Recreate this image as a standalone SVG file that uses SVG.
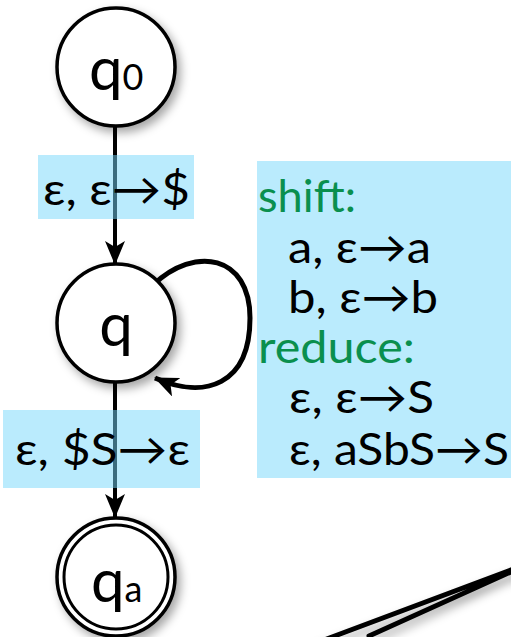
<svg xmlns="http://www.w3.org/2000/svg" width="511" height="637" viewBox="0 0 511 637">
<defs>
<filter id="sh" x="-30%" y="-30%" width="160%" height="160%">
<feDropShadow dx="4" dy="5" stdDeviation="5" flood-color="#000" flood-opacity="0.35"/>
</filter>
<marker id="ah" markerWidth="24" markerHeight="20" viewBox="0 0 24 20" refX="23" refY="10" orient="auto" markerUnits="userSpaceOnUse">
<path d="M0,0 L6,10 L0,20 L24,10 Z" fill="#000"/>
</marker>
</defs>
<style>
.st{fill:#fff;stroke:#000;stroke-width:3.5}
.ed{fill:none;stroke:#000;stroke-width:4}
.lb{fill:rgb(118,216,251);fill-opacity:0.5}
.t{font-family:Lato,"DejaVu Sans",sans-serif;fill:#000}
.g{fill:#0a8f4e}
</style>
<g id="connectors">
<line class="ed" x1="115" y1="126" x2="115" y2="264" marker-end="url(#ah)"/>
<path class="ed" style="stroke-width:5" d="M153,285 C195,245 250,255 250,318 C250,385 205,400 155,378" marker-end="url(#ah)"/>
<line class="ed" x1="115" y1="382" x2="115" y2="517" marker-end="url(#ah)"/>
</g>
<g id="q0">
<circle class="st" cx="116" cy="67" r="59" filter="url(#sh)"/>
<text class="t" x="89" y="90" font-size="60">q<tspan font-size="36">0</tspan></text>
</g>
<g id="q">
<circle class="st" cx="116" cy="323" r="59" filter="url(#sh)"/>
<text class="t" x="116" y="346" font-size="60" text-anchor="middle">q</text>
</g>
<g id="qa">
<circle class="st" cx="116" cy="577" r="59" filter="url(#sh)"/>
<circle cx="116" cy="577" r="52" fill="none" stroke="#000" stroke-width="3"/>
<text class="t" x="91" y="602" font-size="60">q<tspan font-size="36">a</tspan></text>
</g>
<g id="label-push">
<rect class="lb" x="38" y="155" width="156" height="64"/>
<text class="t" x="43" y="205" font-size="45" textLength="147" lengthAdjust="spacingAndGlyphs">ε, ε→$</text>
</g>
<g id="label-pop">
<rect class="lb" x="3" y="410" width="197" height="78"/>
<text class="t" x="15" y="465" font-size="45" textLength="175" lengthAdjust="spacingAndGlyphs">ε, $S→ε</text>
</g>
<g id="rules">
<rect class="lb" x="257" y="161" width="260" height="317"/>
<text class="t g" x="258" y="212" font-size="45" textLength="98" lengthAdjust="spacingAndGlyphs">shift:</text>
<text class="t" x="288" y="263" font-size="45" textLength="143" lengthAdjust="spacingAndGlyphs">a, ε→a</text>
<text class="t" x="288" y="313" font-size="45" textLength="150" lengthAdjust="spacingAndGlyphs">b, ε→b</text>
<text class="t g" x="258" y="363" font-size="45" textLength="157" lengthAdjust="spacingAndGlyphs">reduce:</text>
<text class="t" x="289" y="413" font-size="45" textLength="145" lengthAdjust="spacingAndGlyphs">ε, ε→S</text>
<text class="t" x="289" y="465" font-size="45" textLength="220" lengthAdjust="spacingAndGlyphs">ε, aSbS→S</text>
</g>
<g id="pointer">
<path d="M316,643 L535,561 L369,636" fill="none" stroke="#000" stroke-width="5" stroke-linejoin="round" stroke-linecap="round" filter="url(#sh)"/>
</g>
</svg>
